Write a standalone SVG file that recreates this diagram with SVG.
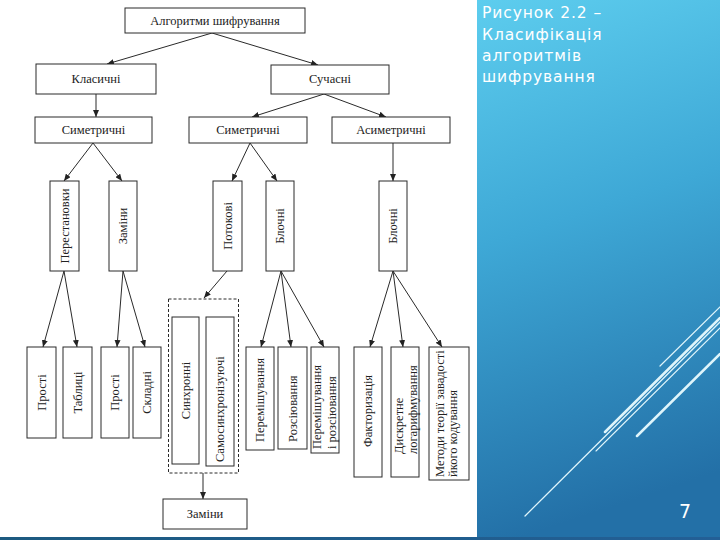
<svg xmlns="http://www.w3.org/2000/svg" width="720" height="540" viewBox="0 0 720 540">
<defs>
<linearGradient id="pg" x1="0" y1="0" x2="0.15" y2="1">
<stop offset="0" stop-color="#5dcdee"/>
<stop offset="0.45" stop-color="#3ea8d6"/>
<stop offset="1" stop-color="#2370a7"/>
</linearGradient>
<linearGradient id="bg" x1="0" y1="0" x2="1" y2="0">
<stop offset="0" stop-color="#1c5a80"/>
<stop offset="1" stop-color="#235f96"/>
</linearGradient>
<marker id="ah" viewBox="0 0 7 6" refX="7" refY="3" markerWidth="7" markerHeight="6" markerUnits="userSpaceOnUse" orient="auto">
<path d="M0,0 L7,3 L0,6 z" fill="#222"/>
</marker>
</defs>
<style>
.box{fill:#fff;stroke:#2a2a2a;stroke-width:1}
.dash{fill:none;stroke:#2a2a2a;stroke-width:1;stroke-dasharray:3 2}
.t{font-family:"Liberation Serif","Times New Roman",serif;font-size:12.5px;fill:#222}
.m{text-anchor:middle}
.conn line{stroke:#2a2a2a;stroke-width:1;marker-end:url(#ah)}
.deco line{stroke:#dff5fb;stroke-linecap:round}
.title{font-family:"DejaVu Sans","Noto Sans",sans-serif;font-size:15.5px;letter-spacing:0.9px;fill:#ffffff}
</style>
<rect x="0" y="0" width="720" height="540" fill="#ffffff"/>
<rect x="477" y="0" width="243" height="540" fill="url(#pg)"/>
<rect x="0" y="537" width="720" height="3" fill="url(#bg)"/>
<g class="deco">
<line x1="660" y1="366" x2="720" y2="307" stroke-width="1.2"/>
<line x1="605" y1="432" x2="720" y2="318" stroke-width="2.5"/>
<line x1="525" y1="516" x2="720" y2="322" stroke-width="1.3"/>
<line x1="596" y1="451" x2="720" y2="328" stroke-width="1.1"/>
<line x1="637" y1="436" x2="720" y2="354" stroke-width="2.5"/>
</g>
<g id="title">
<text class="title" x="482" y="18">Рисунок 2.2 –</text>
<text class="title" x="482" y="39.5">Класифікація</text>
<text class="title" x="482" y="60.5">алгоритмів</text>
<text class="title" x="482" y="81.5">шифрування</text>
</g>
<text id="page" x="679" y="518" font-family="DejaVu Sans,sans-serif" font-size="19" fill="#ffffff">7</text>

<g class="conn">
<line x1="212" y1="33" x2="107" y2="64"/>
<line x1="212" y1="33" x2="318" y2="65"/>
<line x1="96" y1="94" x2="96" y2="117"/>
<line x1="324" y1="94" x2="252" y2="117"/>
<line x1="324" y1="94" x2="386" y2="117"/>
<line x1="93" y1="143" x2="64" y2="181"/>
<line x1="93" y1="143" x2="122" y2="181"/>
<line x1="250" y1="143" x2="232" y2="181"/>
<line x1="250" y1="143" x2="277" y2="181"/>
<line x1="393" y1="143" x2="393" y2="181"/>
<line x1="64" y1="271" x2="43" y2="347"/>
<line x1="64" y1="271" x2="77" y2="347"/>
<line x1="123" y1="271" x2="117" y2="347"/>
<line x1="123" y1="271" x2="145" y2="347"/>
<line x1="227" y1="271" x2="204" y2="298"/>
<line x1="203" y1="473" x2="203" y2="499"/>
<line x1="281" y1="271" x2="261" y2="347"/>
<line x1="281" y1="271" x2="291" y2="347"/>
<line x1="281" y1="271" x2="324" y2="347"/>
<line x1="393" y1="271" x2="370" y2="347"/>
<line x1="393" y1="271" x2="403" y2="347"/>
<line x1="393" y1="271" x2="442" y2="347"/>
</g>

<g id="n-root"><rect class="box" x="125" y="8" width="180" height="25"/><text class="t m" x="215" y="25">Алгоритми шифрування</text></g>
<g id="n-klas"><rect class="box" x="36" y="64" width="120" height="30"/><text class="t m" x="96" y="83">Класичні</text></g>
<g id="n-suchas"><rect class="box" x="271" y="65" width="118" height="29"/><text class="t m" x="330" y="83">Сучасні</text></g>
<g id="n-sym1"><rect class="box" x="35" y="117" width="117" height="26"/><text class="t m" x="93.5" y="134">Симетричні</text></g>
<g id="n-sym2"><rect class="box" x="189" y="117" width="118" height="26"/><text class="t m" x="248" y="134">Симетричні</text></g>
<g id="n-asym"><rect class="box" x="332" y="117" width="118" height="26"/><text class="t m" x="391" y="134">Асиметричні</text></g>

<g id="n-perest"><rect class="box" x="50" y="181" width="29" height="90"/><text class="t m" transform="translate(68.5,226) rotate(-90)">Перестановки</text></g>
<g id="n-zamin1"><rect class="box" x="109" y="181" width="28" height="90"/><text class="t m" transform="translate(127,226) rotate(-90)">Заміни</text></g>
<g id="n-potok"><rect class="box" x="213" y="181" width="29" height="90"/><text class="t m" transform="translate(231.5,226) rotate(-90)">Потокові</text></g>
<g id="n-bloch1"><rect class="box" x="266" y="181" width="28" height="90"/><text class="t m" transform="translate(284,226) rotate(-90)">Блочні</text></g>
<g id="n-bloch2"><rect class="box" x="379" y="181" width="28" height="90"/><text class="t m" transform="translate(397,226) rotate(-90)">Блочні</text></g>

<g id="n-prosti1"><rect class="box" x="27" y="347" width="29" height="91"/><text class="t m" transform="translate(45.5,392.5) rotate(-90)">Прості</text></g>
<g id="n-tabl"><rect class="box" x="63" y="347" width="29" height="91"/><text class="t m" transform="translate(81.5,392.5) rotate(-90)">Таблиці</text></g>
<g id="n-prosti2"><rect class="box" x="101" y="347" width="28" height="91"/><text class="t m" transform="translate(119,392.5) rotate(-90)">Прості</text></g>
<g id="n-skladni"><rect class="box" x="133" y="347" width="28" height="91"/><text class="t m" transform="translate(151,392.5) rotate(-90)">Складні</text></g>

<g id="n-group"><rect class="dash" x="168.5" y="299" width="70" height="174"/></g>
<g id="n-synch"><rect class="box" x="172" y="317" width="27" height="147"/><text class="t m" transform="translate(189.5,390.5) rotate(-90)">Синхронні</text></g>
<g id="n-selfsynch"><rect class="box" x="206" y="317" width="28" height="149"/><text class="t" transform="translate(224,462) rotate(-90)">Самосинхронізуючі</text></g>
<g id="n-zamin2"><rect class="box" x="163" y="499" width="84" height="30"/><text class="t m" x="205" y="518">Заміни</text></g>

<g id="n-peremish"><rect class="box" x="246" y="347" width="28" height="103"/><text class="t m" transform="translate(264,400) rotate(-90)">Перемішування</text></g>
<g id="n-rozsiyuv"><rect class="box" x="278" y="347" width="29" height="102"/><text class="t" transform="translate(296.5,442) rotate(-90)">Розсіювання</text></g>
<g id="n-perroz"><rect class="box" x="311" y="347" width="28" height="106"/><text class="t" transform="translate(321,449) rotate(-90)"><tspan x="0" y="0">Перемішування</tspan><tspan x="0" y="15">і розсіювання</tspan></text></g>
<g id="n-faktor"><rect class="box" x="354" y="347" width="28" height="130"/><text class="t m" transform="translate(372,411) rotate(-90)">Факторизація</text></g>
<g id="n-dyskr"><rect class="box" x="391" y="347" width="28" height="130"/><text class="t" transform="translate(403,454) rotate(-90)"><tspan x="0" y="0">Дискретне</tspan><tspan x="0" y="14">логарифмування</tspan></text></g>
<g id="n-metody"><rect class="box" x="429" y="347" width="40" height="133"/><text class="t" transform="translate(444,477) rotate(-90)"><tspan x="0" y="0">Методи теорії завадості</tspan><tspan x="0" y="13">йкого кодування</tspan></text></g>
</svg>
